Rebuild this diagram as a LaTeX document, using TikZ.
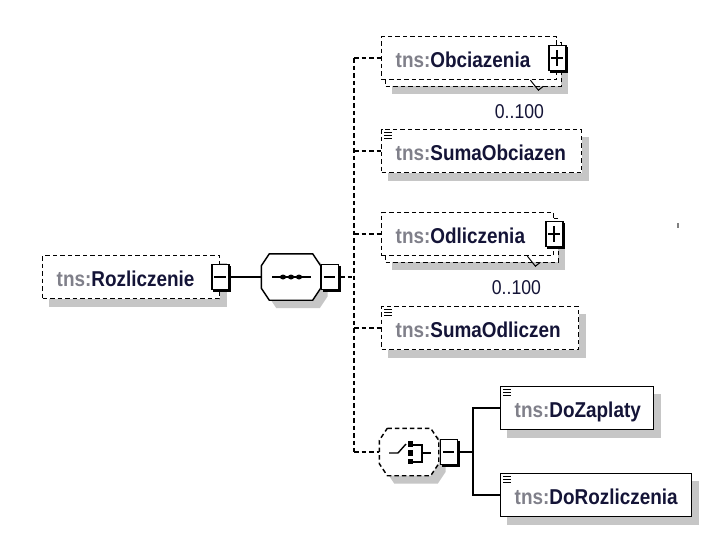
\documentclass[tikz,border=0pt]{standalone}
\usepackage{fontspec}
\setmainfont{Liberation Sans}
\newfontfamily\narrowsans[FakeStretch=0.88]{Liberation Sans}
\usepackage{xcolor}
\usepackage{tikz}
\usetikzlibrary{calc,backgrounds}
\definecolor{tnsGray}{RGB}{128,128,138}
\definecolor{elemName}{RGB}{20,20,55}
\definecolor{shadeGray}{RGB}{198,198,198}
\newcommand{\tns}[1]{\mbox{\textcolor{tnsGray}{tns:}\textcolor{elemName}{#1}}}
\newcommand{\elemfont}{\narrowsans\fontsize{21.5}{24}\selectfont\bfseries}
% octagon of a compositor, drawn round an empty node
\newcommand{\octpath}[1]{([xshift=8pt]#1.north west) -- ([xshift=-8pt]#1.north east) -- ([yshift=-12pt]#1.north east) -- ([yshift=12pt]#1.south east) -- ([xshift=-8pt]#1.south east) -- ([xshift=8pt]#1.south west) -- ([yshift=12pt]#1.south west) -- ([yshift=-12pt]#1.north west) -- cycle}
% expand / collapse boxes
\newcommand{\expbar}[1]{\draw[line width=2.8pt] ([yshift=-2pt]#1.north east) -- (#1.south east) -- ([xshift=2pt]#1.south west);}
\newcommand{\expminus}[1]{\expbar{#1}\draw ([xshift=3pt]#1.west) -- ([xshift=-4pt]#1.east);}
\newcommand{\expplus}[1]{\expminus{#1}\draw ([xshift=-0.5pt,yshift=-5pt]#1.north) -- ([xshift=-0.5pt,yshift=5pt]#1.south);}
% simple content mark
\newcommand{\simplemark}[1]{\foreach \d in {3.5,6.5,9.5} \draw[line width=1pt] ([shift={(3,\d)}]#1.north west) -- ++(8,0);}
% shadows
\newcommand{\boxshadow}[1]{\fill[shadeGray] ([shift={(7,8)}]#1.north west) rectangle ([shift={(7,8)}]#1.south east);}
\newcommand{\multiback}[1]{\fill[shadeGray] ([shift={(11,14)}]#1.north west) rectangle ([shift={(11,14)}]#1.south east);
  \draw[fill=white, dash pattern=on 4.5pt off 3pt] ([shift={(4,6)}]#1.north west) rectangle ([shift={(4,6)}]#1.south east);}

\begin{document}
\begin{tikzpicture}[x=1pt, y=-1pt, line width=1.4pt,
    elem/.style={draw, fill=white, anchor=west, minimum height=43pt, inner xsep=14pt, inner ysep=0pt,
      text height=18pt, text depth=0pt, align=left, font=\elemfont},
    opt/.style={elem, dash pattern=on 4.5pt off 3pt},
    expbox/.style={draw, fill=white, minimum width=17pt, minimum height=25pt, inner sep=0pt},
    link/.style={dash pattern=on 4.5pt off 3pt},
    occ/.style={font=\narrowsans\fontsize{20}{22}\selectfont, text=elemName, inner sep=0pt}]
    \useasboundingbox (0,0) rectangle (713,546);

    % Root element and its sequence
    \node[opt, text width=149pt] (rozl) at (42,277) {\tns{Rozliczenie}};
    \node[minimum width=58pt, minimum height=45pt, inner sep=0pt] (seq) at (291,277) {};
    \draw[fill=white] \octpath{seq};
    \draw (rozl.east) ++(8,0) -- (seq.west);
    \node[expbox] (rozlExp) at (rozl.east) {};
    \expminus{rozlExp}
    \node[expbox] (seqExp) at (330,277) {};
    \expminus{seqExp}
    \begin{scope}[shift={(seq.center)}]
        \draw (-19,0) -- (20,0);
        \foreach \p in {-8,0,8} \fill (\p,0) ellipse (3 and 2.5);
    \end{scope}

    % Trunk of the sequence
    \coordinate (trunkTop) at (354,58);
    \coordinate (trunkBot) at (354,452);
    \draw[link] (trunkTop) -- (trunkBot);
    \draw[link] (seqExp.east) ++(1,0) -- (seqExp.east -| trunkTop);

    % Children
    \node[opt, text width=147pt] (obc) at (381,58) {\tns{Obciazenia}};
    \node[opt, text width=172pt] (sumObc) at (381,151) {\tns{SumaObciazen}};
    \node[opt, text width=144pt] (odl) at (381,234) {\tns{Odliczenia}};
    \node[opt, text width=169pt] (sumOdl) at (381,328) {\tns{SumaOdliczen}};
    \node[minimum width=58pt, minimum height=46pt, inner sep=0pt] (choice) at (409,452) {};
    \draw[fill=white, link] \octpath{choice};
    \foreach \n in {obc,sumObc,odl,sumOdl,choice}
        \draw[link] (trunkTop |- \n.west) -- (\n.west);

    \node[expbox] (obcExp) at (obc.east) {};
    \expplus{obcExp}
    \node[expbox] (odlExp) at (odl.east) {};
    \expplus{odlExp}
    \simplemark{sumObc}
    \simplemark{sumOdl}

    % occurrence marks
    \draw[line width=1pt] ([shift={(-27,0)}]obc.south east) -- ([shift={(-19,10)}]obc.south east) -- ([shift={(-14,6)}]obc.south east);
    \node[occ] (obcOcc) at ([shift={(-38,31)}]obc.south east) {0..100};
    \draw[line width=1pt] ([shift={(-27,0)}]odl.south east) -- ([shift={(-19,10)}]odl.south east) -- ([shift={(-14,6)}]odl.south east);
    \node[occ] (odlOcc) at ([shift={(-38,31)}]odl.south east) {0..100};

    % Choice
    \begin{scope}[shift={(choice.center)}]
        \draw (-20,1) -- (-11,1) -- (-3,-8);
        \fill (-1,-11) rectangle (4,-5);
        \fill (-1,-2) rectangle (4,4);
        \fill (-1,7) rectangle (4,12);
        \draw (4,-7) -- (13,-7) -- (13,10) -- (4,10);
        \draw (13,1) -- (22,1);
    \end{scope}
    \node[expbox] (choiceExp) at (449,452) {};
    \expminus{choiceExp}
    \node[elem, text width=125pt] (doZap) at (500,408) {\tns{DoZaplaty}};
    \node[elem, text width=163pt] (doRozl) at (500,495) {\tns{DoRozliczenia}};
    \simplemark{doZap}
    \simplemark{doRozl}
    \coordinate (fork) at (473,452);
    \draw (choiceExp.east) ++(1,0) -- (fork) |- (doZap.west);
    \draw (fork) |- (doRozl.west);

    \fill[gray] (677,223) rectangle (679,228);

    % Shadows and back boxes
    \begin{scope}[on background layer]
        \fill[white] (0,0) rectangle (713,546);
        \foreach \n in {rozl,sumObc,sumOdl,doZap,doRozl} {\boxshadow{\n}}
        \multiback{obc}
        \multiback{odl}
        \begin{scope}[transform canvas={shift={(7pt,-8pt)}}]
            \fill[shadeGray] \octpath{seq};
            \fill[shadeGray] \octpath{choice};
        \end{scope}
    \end{scope}
\end{tikzpicture}
\end{document}
